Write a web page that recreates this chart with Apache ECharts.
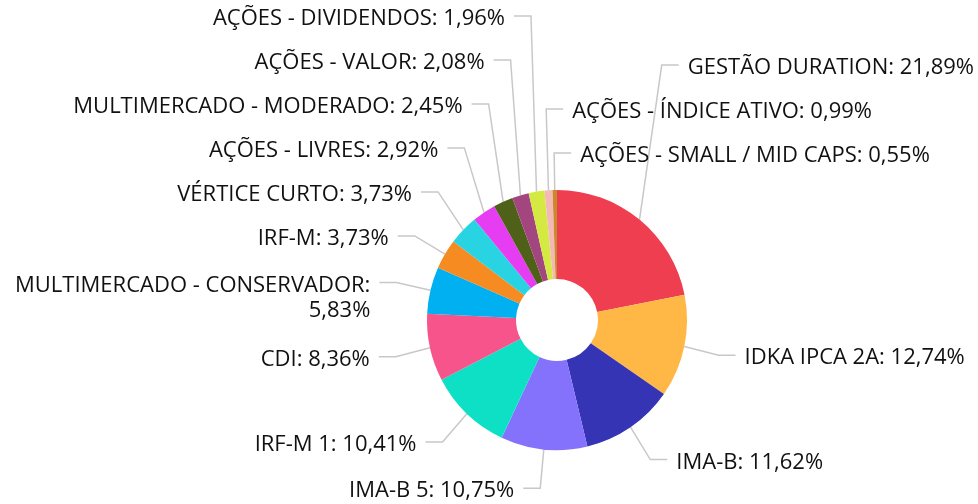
<!DOCTYPE html>
<html>
<head>
<meta charset="utf-8">
<script src="https://cdn.jsdelivr.net/npm/echarts@6/dist/echarts.min.js"></script>
<style>
  html, body { margin: 0; padding: 0; background: #fff; }
  #chart { width: 978px; height: 504px; }
</style>
</head>
<body>
<div id="chart"></div>
<script>
var names = [
	'GESTÃO DURATION', 'IDKA IPCA 2A', 'IMA-B', 'IMA-B 5', 'IRF-M 1', 'CDI',
	'MULTIMERCADO - CONSERVADOR', 'IRF-M', 'VÉRTICE CURTO', 'AÇÕES - LIVRES',
	'MULTIMERCADO - MODERADO', 'AÇÕES - VALOR', 'AÇÕES - DIVIDENDOS',
	'AÇÕES - ÍNDICE ATIVO', 'AÇÕES - SMALL / MID CAPS'
];
var values = [21.89, 12.74, 11.62, 10.75, 10.41, 8.36, 5.83, 3.73, 3.73, 2.92, 2.45, 2.08, 1.96, 0.99, 0.55];
var colors = [
	'#ef3e50', '#ffb845', '#3434b4', '#8471fc', '#0ee0c6', '#f8548c',
	'#00b0f0', '#f58b21', '#28d4e2', '#e63cf2', '#4f6119', '#a3467f',
	'#d4ea43', '#f4b9b6', '#c88a2a'
];
// labels drawn on the right side, top to bottom
var rightLabelOrder = ['GESTÃO DURATION', 'AÇÕES - ÍNDICE ATIVO', 'AÇÕES - SMALL / MID CAPS', 'IDKA IPCA 2A', 'IMA-B'];

var W = 978, H = 504;
var cx = 557, cy = 320, rOuter = 130, rInner = 41;
var rLabelX = 165, rLabelY = 168;
var fontSize = 22, lineH = 25, gap = 19, seg = 17, textGap = 9, textDrop = 3;

var fmt = function (v){
	return v.toFixed(2).replace('.', ',') + '%';
};

// label placement: elbow on an oval around the pie, then labels stacked per side
var labelInfo = function (){
	var ctx = document.createElement('canvas').getContext('2d');
	ctx.font = fontSize + 'px "Open Sans"';
	var total = 0;
	for (var i = 0; i < values.length; i++) total += values[i];
	var info = [];
	var acc = 0;
	for (var i = 0; i < values.length; i++) {
		var mid = (acc + values[i] / 2) / total * Math.PI * 2;
		acc += values[i];
		var right = rightLabelOrder.indexOf(names[i]) >= 0;
		var ex = cx + rLabelX * Math.sin(mid);
		var text = names[i] + ': ' + fmt(values[i]);
		var avail = right ? W - (ex + seg + textGap) - 4 : ex - seg - textGap - 4;
		var lines = 1;
		if (ctx.measureText(text).width > avail) {
			text = names[i] + ':\n' + fmt(values[i]);
			lines = 2;
		}
		info.push({
			right: right,
			sx: cx + rOuter * Math.sin(mid),
			sy: cy - rOuter * Math.cos(mid),
			ex: ex,
			// y of the first text line
			y: cy - rLabelY * Math.cos(mid) + 1 + textDrop,
			text: text,
			lines: lines
		});
	}
	var arrange = function (list){
		var limit = H + gap / 2;
		for (var k = list.length - 1; k >= 0; k--) {
			var L = info[list[k]];
			L.y = Math.min(L.y, limit - (L.lines - 0.5) * lineH - gap / 2);
			limit = L.y - lineH / 2 - gap / 2;
		}
		limit = -gap / 2;
		for (var k = 0; k < list.length; k++) {
			var L = info[list[k]];
			L.y = Math.max(L.y, limit + lineH / 2 + gap / 2);
			limit = L.y + (L.lines - 0.5) * lineH + gap / 2;
		}
	};
	var left = [];
	var rightList = [];
	for (var i = 0; i < info.length; i++) {
		if (!info[i].right) left.push(i);
	}
	left.sort(function (a, b){ return info[a].y - info[b].y; });
	for (var k = 0; k < rightLabelOrder.length; k++) {
		rightList.push(names.indexOf(rightLabelOrder[k]));
	}
	arrange(left);
	arrange(rightList);
	return info;
}();

var chart = echarts.init(document.getElementById('chart'));

var pieData = [];
for (var i = 0; i < names.length; i++) {
	pieData.push({
		name: names[i],
		value: values[i],
		itemStyle: { color: colors[i] }
	});
}

var option = {
	animation: false,
	textStyle: { fontFamily: 'Open Sans' },
	series: [
		{
			type: 'pie',
			center: [cx, cy],
			radius: [rInner, rOuter],
			startAngle: 90,
			clockwise: true,
			avoidLabelOverlap: false,
			label: {
				show: true,
				color: '#111',
				fontSize: fontSize,
				fontFamily: 'Open Sans',
				lineHeight: lineH,
				overflow: 'none',
				formatter: function (p) {
					return labelInfo[p.dataIndex].text;
				}
			},
			labelLine: {
				show: true,
				lineStyle: { color: '#c8c8c8', width: 1.5 }
			},
			labelLayout: function (params) {
				var L = labelInfo[params.dataIndex];
				var endX = L.right ? L.ex + seg : L.ex - seg;
				var lineY = L.y - textDrop;
				return {
					x: L.right ? endX + textGap : endX - textGap,
					y: L.y + (L.lines - 1) * lineH / 2,
					align: L.right ? 'left' : 'right',
					verticalAlign: 'middle',
					labelLinePoints: [[L.sx, L.sy], [L.ex, lineY], [endX, lineY]]
				};
			},
			data: pieData
		}
	]
};
chart.setOption(option);
</script>
</body>
</html>
